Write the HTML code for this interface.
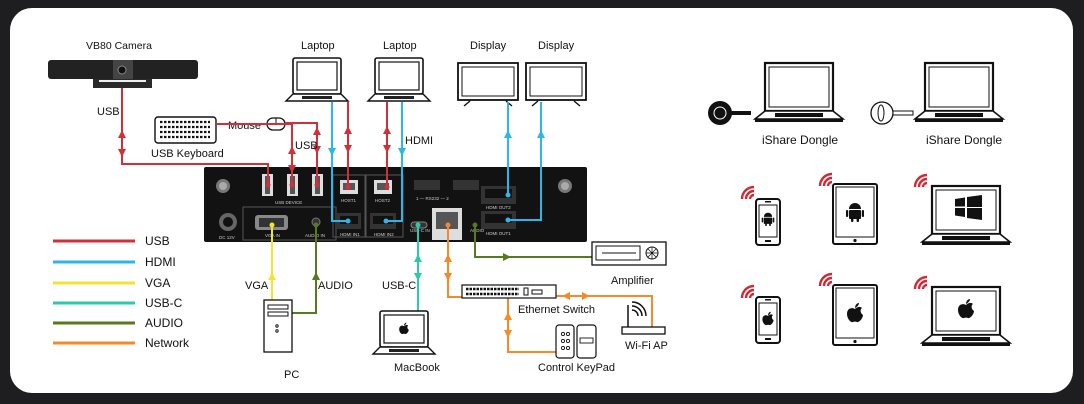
<!DOCTYPE html>
<html><head><meta charset="utf-8"><style>
html,body{margin:0;padding:0;background:#1e1e20;}
svg{display:block;font-family:"Liberation Sans",Arial,sans-serif;}
</style></head><body>
<svg width="1084" height="404" viewBox="0 0 1084 404" xmlns="http://www.w3.org/2000/svg" font-size="11" fill="#111">
<defs>
<g id="laptop">
 <rect x="7" y="0" width="48" height="36" rx="2" fill="#fff" stroke="#111" stroke-width="1.6"/>
 <rect x="11" y="4" width="40" height="28" fill="#fff" stroke="#111" stroke-width="1.2"/>
 <path d="M7 36 L0 43 L62 43 L55 36 Z" fill="#fff" stroke="#111" stroke-width="1.4"/>
 <rect x="16" y="38" width="30" height="3" fill="#222"/>
</g>
<g id="bigLaptop">
 <rect x="10" y="0" width="68" height="48" fill="#fff" stroke="#111" stroke-width="2.2"/>
 <rect x="14" y="4" width="60" height="40" fill="#fff" stroke="#111" stroke-width="1"/>
 <path d="M10 48 L0 56 L88 56 L78 48 Z" fill="#fff" stroke="#111" stroke-width="1.6"/>
 <rect x="20" y="50" width="48" height="4" fill="#111"/>
 <rect x="0" y="56" width="88" height="3" fill="#111"/>
</g>
<g id="display">
 <rect x="0" y="0" width="60" height="37" fill="#fff" stroke="#111" stroke-width="1.8"/>
 <rect x="4" y="4" width="52" height="29" fill="#fff" stroke="#111" stroke-width="1"/>
 <path d="M6 43 L12 38 M54 43 L48 38" stroke="#111" stroke-width="1.4"/>
</g>
<g id="wifi" fill="none" stroke="#d02a35" stroke-width="2.4">
 <path d="M10 14 A4 4 0 0 1 14 10"/>
 <path d="M6 14 A8 8 0 0 1 14 6"/>
 <path d="M2 14 A12 12 0 0 1 14 2"/>
</g>
<g id="phone">
 <rect x="0" y="0" width="24" height="46" rx="3" fill="#fff" stroke="#111" stroke-width="2"/>
 <rect x="3" y="6" width="18" height="32" fill="#fff" stroke="#111" stroke-width="1"/>
 <rect x="9" y="41" width="6" height="2" fill="#111"/><rect x="9" y="2" width="6" height="1.5" fill="#111"/>
</g>
<g id="tablet">
 <rect x="0" y="0" width="44" height="60" rx="2" fill="#fff" stroke="#111" stroke-width="2"/>
 <rect x="3" y="3" width="38" height="50" fill="#fff" stroke="#111" stroke-width="1"/>
 <circle cx="22" cy="56.5" r="1.6" fill="#111"/>
</g>
<g id="android" fill="#111">
 <path d="M-6 -3 A6 6 0 0 1 6 -3 Z"/>
 <rect x="-6" y="-2" width="12" height="9" rx="1"/>
 <rect x="-9" y="-2" width="2.2" height="7" rx="1"/><rect x="6.8" y="-2" width="2.2" height="7" rx="1"/>
 <rect x="-4" y="6" width="2.4" height="4" rx="1"/><rect x="1.6" y="6" width="2.4" height="4" rx="1"/>
</g>
<g id="apple" fill="#111">
 <path d="M0 -3 C-3 -5 -8 -4 -8 2 C-8 7 -4 11 -2 10 C-1 9.5 1 9.5 2 10 C4 11 8 6 8 3 C5 1 5 -3 7 -4 C5 -6 2 -5 0 -3 Z"/>
 <path d="M0 -4 C0 -7 2 -9 4 -9 C4 -7 2 -5 0 -4 Z"/>
</g>
</defs>

<rect x="10" y="8" width="1063" height="385" rx="22" fill="#fff"/>

<!-- Camera -->
<text x="86" y="49" font-size="10.5">VB80 Camera</text>
<rect x="48" y="60" width="150" height="19" rx="3" fill="#222"/>
<rect x="113" y="60" width="20" height="19" fill="#444"/>
<circle cx="122" cy="70" r="4" fill="#111" stroke="#888" stroke-width="1"/>
<rect x="93" y="79" width="59" height="9" fill="#2a2a2a"/>
<rect x="99" y="80" width="47" height="2" fill="#eee"/>

<!-- Keyboard -->
<rect x="155" y="117" width="61" height="26" rx="3" fill="#fff" stroke="#111" stroke-width="1.4"/>
<path d="M160 122 h50 M160 127 h50 M160 132 h50 M160 137 h50" fill="none" stroke="#111" stroke-dasharray="2.5 1.5" stroke-width="2.2"/>
<text x="151" y="157">USB Keyboard</text>
<text x="228" y="129">Mouse</text>
<rect x="267" y="118" width="18" height="12" rx="6" fill="#fff" stroke="#111" stroke-width="1.3"/>
<path d="M276 118 v6 M276 124 h9" stroke="#111" stroke-width="1"/>

<!-- Laptops/displays -->
<text x="301" y="49">Laptop</text>
<use href="#laptop" x="286" y="58"/>
<text x="383" y="49">Laptop</text>
<use href="#laptop" x="368" y="58"/>
<text x="470" y="49">Display</text>
<use href="#display" x="458" y="63"/>
<text x="538" y="49">Display</text>
<use href="#display" x="526" y="63"/>

<!-- Device -->
<rect x="204" y="167" width="383" height="75" rx="2" fill="#121212"/>
<circle cx="223" cy="186" r="7" fill="#777"/><circle cx="223" cy="186" r="4" fill="#aaa"/>
<circle cx="565" cy="186" r="7" fill="#777"/><circle cx="565" cy="186" r="4" fill="#aaa"/>
<circle cx="228" cy="222" r="9" fill="#666"/><circle cx="228" cy="222" r="5" fill="#111"/>
<g font-size="4.5" fill="#ccc">
<text x="219" y="239">DC 12V</text>
<text x="275" y="204">USB DEVICE</text>
<text x="265" y="237">VGA IN</text>
<text x="305" y="237">AUDIO IN</text>
<text x="341" y="202">HOST1</text>
<text x="375" y="202">HOST2</text>
<text x="340" y="236">HDMI IN1</text>
<text x="374" y="236">HDMI IN2</text>
<text x="416" y="200">1 — RS232 — 2</text>
<text x="410" y="232">USB-C IN</text>
<text x="441" y="238">LAN</text>
<text x="470" y="232">AUDIO</text>
<text x="486" y="209">HDMI OUT2</text>
<text x="486" y="235">HDMI OUT1</text>
</g>
<g fill="#ddd"><rect x="262" y="174" width="11" height="22"/><rect x="287" y="174" width="11" height="22"/><rect x="312" y="174" width="11" height="22"/></g>
<g fill="#555"><rect x="265" y="176" width="5" height="18"/><rect x="290" y="176" width="5" height="18"/><rect x="315" y="176" width="5" height="18"/></g>
<rect x="243" y="207" width="93" height="33" fill="none" stroke="#555" stroke-width="1"/>
<rect x="255" y="215" width="33" height="15" rx="3" fill="#888"/><rect x="259" y="218" width="25" height="9" fill="#333"/>
<circle cx="316" cy="222" r="4" fill="#333" stroke="#777"/>
<rect x="333" y="175" width="32" height="62" fill="none" stroke="#555"/>
<rect x="366" y="175" width="37" height="62" fill="none" stroke="#555"/>
<rect x="340" y="180" width="18" height="14" fill="#ddd"/><rect x="343" y="183" width="12" height="7" fill="#555"/>
<rect x="374" y="180" width="18" height="14" fill="#ddd"/><rect x="377" y="183" width="12" height="7" fill="#555"/>
<rect x="337" y="213" width="24" height="16" fill="#333"/><rect x="340" y="216" width="18" height="8" fill="#111"/>
<rect x="370" y="213" width="26" height="16" fill="#333"/><rect x="373" y="216" width="20" height="8" fill="#111"/>
<rect x="414" y="180" width="26" height="10" fill="#333"/><rect x="453" y="180" width="26" height="10" fill="#333"/>
<rect x="411" y="222" width="16" height="6" rx="3" fill="#333" stroke="#888"/>
<rect x="432" y="208" width="30" height="32" fill="#ddd"/><rect x="436" y="212" width="22" height="17" fill="#555"/>
<rect x="481" y="186" width="35" height="18" fill="#333"/><rect x="485" y="189" width="27" height="9" fill="#111"/>
<rect x="481" y="211" width="35" height="18" fill="#333"/><rect x="485" y="214" width="27" height="9" fill="#111"/>

<!-- Connectors -->
<g fill="none" stroke-width="2">
 <path d="M122 88 V164 H268 V185" stroke="#d0303a"/>
 <path d="M216 124 H292 V185" stroke="#d0303a"/>
 <path d="M285 123 H317 V185" stroke="#d0303a"/>
 <path d="M348 102 V187" stroke="#d0303a"/>
 <path d="M387 102 V187" stroke="#d0303a"/>
 <path d="M332 102 V221 H348" stroke="#2db6e8"/>
 <path d="M402 102 V221 H386" stroke="#2db6e8"/>
 <path d="M508 102 V195" stroke="#2db6e8"/>
 <path d="M541 102 V220 H508" stroke="#2db6e8"/>
 <path d="M272 225 V300" stroke="#f5e233"/>
 <path d="M316 225 V313 H292" stroke="#557b1e"/>
 <path d="M418 225 V311" stroke="#2ccaaa"/>
 <path d="M475 225 V257 H592" stroke="#557b1e"/>
 <path d="M448 225 V297 H462" stroke="#f58a2a"/>
 <path d="M556 296 H652 V328" stroke="#f58a2a"/>
 <path d="M508 298 V352 H557" stroke="#f58a2a"/>
</g>
<g fill="#d0303a"><circle cx="268" cy="185" r="2.5"/><circle cx="292" cy="185" r="2.5"/><circle cx="317" cy="185" r="2.5"/><circle cx="348" cy="187" r="2.5"/><circle cx="387" cy="187" r="2.5"/></g>
<g fill="#2db6e8"><circle cx="348" cy="221" r="2.5"/><circle cx="386" cy="221" r="2.5"/><circle cx="508" cy="195" r="2.5"/><circle cx="508" cy="220" r="2.5"/></g>
<circle cx="272" cy="225" r="2.5" fill="#f5e233"/><circle cx="316" cy="225" r="2.5" fill="#557b1e"/><circle cx="475" cy="225" r="2.5" fill="#557b1e"/><circle cx="418" cy="225" r="2.5" fill="#2ccaaa"/><circle cx="448" cy="225" r="2.5" fill="#f58a2a"/>
<!-- arrows -->
<g fill="#d0303a">
 <path d="M118 138 h8 l-4 -8z M118 149 h8 l-4 8z"/>
 <path d="M288 154 h8 l-4 -8z M288 165 h8 l-4 8z"/>
 <path d="M313 135 h8 l-4 -8z M313 146 h8 l-4 8z"/>
 <path d="M344 134 h8 l-4 -8z M344 145 h8 l-4 8z"/>
 <path d="M383 134 h8 l-4 -8z M383 145 h8 l-4 8z"/>
</g>
<g fill="#2db6e8">
 <path d="M328 148 h8 l-4 8z M398 148 h8 l-4 8z"/>
 <path d="M504 138 h8 l-4 -8z M537 138 h8 l-4 -8z"/>
</g>
<path d="M268 280 h8 l-4 -8z" fill="#f5e233"/>
<path d="M312 280 h8 l-4 -8z M503 253 v8 l8 -4z" fill="#557b1e"/>
<path d="M414 262 h8 l-4 -8z M414 273 h8 l-4 8z" fill="#2ccaaa"/>
<g fill="#f58a2a">
 <path d="M444 262 h8 l-4 -8z M444 273 h8 l-4 8z"/>
 <path d="M504 320 h8 l-4 -8z M504 330 h8 l-4 8z"/>
 <path d="M570 292 v8 l-8 -4z M582 292 v8 l8 -4z"/>
</g>
<text x="97" y="115">USB</text>
<text x="295" y="149">USB</text>
<text x="405" y="144">HDMI</text>
<text x="245" y="289">VGA</text>
<text x="318" y="289">AUDIO</text>
<text x="382" y="289">USB-C</text>

<!-- PC -->
<rect x="264" y="300" width="28" height="52" fill="#fff" stroke="#111" stroke-width="1.3"/>
<rect x="268" y="305" width="20" height="4" fill="#fff" stroke="#111"/><rect x="268" y="312" width="20" height="4" fill="#fff" stroke="#111"/>
<circle cx="277" cy="326" r="1.2" fill="none" stroke="#111"/><circle cx="277" cy="331" r="1.2" fill="none" stroke="#111"/>
<text x="284" y="378">PC</text>

<!-- MacBook -->
<use href="#laptop" x="373" y="311"/>
<use href="#apple" transform="translate(404,328) scale(0.6)"/>
<text x="394" y="371">MacBook</text>

<!-- Switch -->
<rect x="462" y="285" width="94" height="13" fill="#fff" stroke="#111" stroke-width="1.2"/>
<path d="M466 289 h53 M466 294 h53" stroke="#111" stroke-width="2.5" stroke-dasharray="2.5 1"/>
<rect x="524" y="288" width="4" height="7" fill="none" stroke="#111"/><rect x="532" y="290" width="10" height="4" fill="none" stroke="#111"/>
<text x="518" y="313">Ethernet Switch</text>

<!-- Amplifier -->
<rect x="592" y="242" width="74" height="23" fill="#fff" stroke="#111" stroke-width="1.3"/>
<rect x="596" y="246" width="44" height="14" fill="#fff" stroke="#111"/>
<path d="M602 253 h34" stroke="#111"/>
<circle cx="652" cy="253" r="6" fill="#fff" stroke="#111"/><path d="M646 253 h12 M652 247 v12 M648 249 l8 8 M656 249 l-8 8" stroke="#111" stroke-width="0.7"/>
<text x="611" y="284">Amplifier</text>

<!-- Keypad -->
<rect x="556" y="325" width="18" height="33" rx="3" fill="#fff" stroke="#111" stroke-width="1.2"/>
<rect x="577" y="325" width="19" height="33" rx="3" fill="#fff" stroke="#111" stroke-width="1.2"/>
<g fill="none" stroke="#111" stroke-width="0.9"><circle cx="563" cy="334" r="1.6"/><circle cx="568" cy="334" r="1.6"/><circle cx="563" cy="341" r="1.6"/><circle cx="568" cy="341" r="1.6"/><circle cx="563" cy="348" r="1.6"/><circle cx="568" cy="348" r="1.6"/><rect x="580" y="338" width="13" height="5"/></g>
<text x="538" y="371">Control KeyPad</text>

<!-- Wi-Fi AP -->
<rect x="622" y="327" width="43" height="7" fill="#fff" stroke="#111" stroke-width="1.3"/>
<path d="M628 327 V305" stroke="#111" stroke-width="1.5"/>
<path d="M632 310 a6 6 0 0 1 6 6 M632 306 a10 10 0 0 1 10 10 M632 302 a14 14 0 0 1 14 14" fill="none" stroke="#111" stroke-width="1.5"/>
<text x="625" y="349">Wi-Fi AP</text>

<!-- Legend -->
<g stroke-width="3">
 <path d="M53 241 H135" stroke="#d0303a"/>
 <path d="M53 262 H135" stroke="#2db6e8"/>
 <path d="M53 283 H135" stroke="#f5e233"/>
 <path d="M53 303 H135" stroke="#2ccaaa"/>
 <path d="M53 323 H135" stroke="#557b1e"/>
 <path d="M53 343 H135" stroke="#f58a2a"/>
</g>
<g font-size="12">
<text x="145" y="245">USB</text>
<text x="145" y="266">HDMI</text>
<text x="145" y="287">VGA</text>
<text x="145" y="307">USB-C</text>
<text x="145" y="327">AUDIO</text>
<text x="145" y="347">Network</text>
</g>

<!-- Right side -->
<use href="#bigLaptop" x="755" y="63"/>
<circle cx="720" cy="113" r="12" fill="#111"/><circle cx="720" cy="113" r="6" fill="none" stroke="#fff" stroke-width="1"/>
<rect x="731" y="111" width="20" height="4" fill="#111"/>
<text x="762" y="144" font-size="12">iShare Dongle</text>
<use href="#bigLaptop" x="915" y="63"/>
<circle cx="882" cy="113" r="11" fill="#fff" stroke="#111" stroke-width="1.3"/><ellipse cx="881" cy="113" rx="3" ry="8" fill="none" stroke="#111"/>
<rect x="893" y="111" width="20" height="4" fill="#fff" stroke="#111"/>
<text x="926" y="144" font-size="12">iShare Dongle</text>

<use href="#phone" x="756" y="199"/>
<use href="#android" transform="translate(768,219) scale(0.7)"/>
<use href="#tablet" x="833" y="184"/>
<use href="#android" transform="translate(855,212)"/>
<use href="#bigLaptop" x="922" y="186"/>
<g fill="#111"><path d="M955 199 l10 -1.5 v9 h-10z M967 197 l15 -2 v12 h-15z M955 208 h10 v9 l-10 -1.5z M967 208 h15 v12 l-15 -2z"/></g>
<use href="#wifi" x="740" y="185"/>
<use href="#wifi" x="818" y="172"/>
<use href="#wifi" x="913" y="173"/>

<use href="#phone" x="756" y="297"/>
<use href="#apple" transform="translate(768,318) scale(0.7)"/>
<use href="#tablet" x="833" y="285"/>
<use href="#apple" transform="translate(855,312)"/>
<use href="#bigLaptop" x="922" y="287"/>
<use href="#apple" transform="translate(966,308)"/>
<use href="#wifi" x="740" y="284"/>
<use href="#wifi" x="818" y="272"/>
<use href="#wifi" x="913" y="275"/>
</svg>
</body></html>
